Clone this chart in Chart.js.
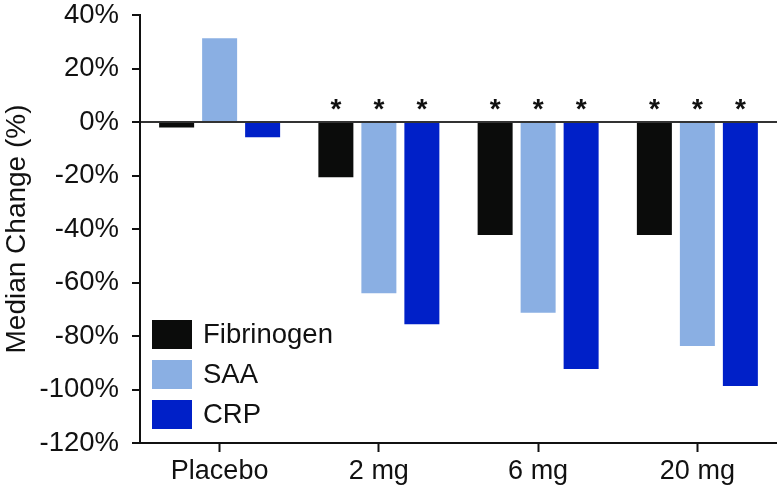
<!DOCTYPE html>
<html>
<head>
<meta charset="utf-8">
<script src="https://cdn.jsdelivr.net/npm/chart.js@4/dist/chart.umd.min.js"></script>
<style>
  html, body { margin: 0; padding: 0; background: #fff; }
  #wrap { position: relative; width: 777px; height: 492px; }
</style>
</head>
<body>
<div id="wrap"><canvas id="c" width="777" height="492"></canvas></div>
<script>
const categories = ['Placebo', '2 mg', '6 mg', '20 mg'];
const seriesNames = ['Fibrinogen', 'SAA', 'CRP'];
const fibrinogen = [-2.1, -20.7, -42.2, -42.2];
const saa = [31.3, -64.0, -71.3, -83.7];
const crp = [-5.7, -75.6, -92.3, -98.7];
const significant = [false, true, true, true];
const yTicks = [-120, -100, -80, -60, -40, -20, 0, 20, 40];
const colors = ['#0b0c0b', '#8aafe3', '#0020c8'];

const FONT = '"Liberation Sans", Arial, Helvetica, sans-serif';
const TEXT = '#111111';

const legendPlugin = {
  id: 'insideLegend',
  afterDraw(chart) {
    const ctx = chart.ctx;
    const area = chart.chartArea;
    ctx.save();
    ctx.fillStyle = TEXT;
    ctx.font = 'bold 28px ' + FONT;
    ctx.textAlign = 'center';
    ctx.textBaseline = 'alphabetic';
    const zeroY = chart.scales.y.getPixelForValue(0);
    chart.data.datasets.forEach((ds, di) => {
      const meta = chart.getDatasetMeta(di);
      meta.data.forEach((bar, i) => {
        if (significant[i]) ctx.fillText('*', bar.x, zeroY - 4);
      });
    });
    ctx.font = '27.5px ' + FONT;
    ctx.textAlign = 'left';
    ctx.textBaseline = 'middle';
    const x0 = area.left + 12;
    const y0 = area.bottom - 123;
    chart.data.datasets.forEach((ds, di) => {
      const y = y0 + di * 40;
      ctx.fillStyle = ds.backgroundColor;
      ctx.fillRect(x0, y, 40, 29);
      ctx.fillStyle = TEXT;
      ctx.fillText(ds.label, x0 + 51, y + 15);
    });
    ctx.restore();
  }
};

const datasets = [fibrinogen, saa, crp].map((vals, i) => ({
  label: seriesNames[i],
  data: vals,
  backgroundColor: colors[i],
  borderWidth: 0,
  categoryPercentage: 0.81,
  barPercentage: 0.814
}));

new Chart(document.getElementById('c'), {
  type: 'bar',
  data: { labels: categories, datasets },
  options: {
    responsive: false,
    animation: false,
    layout: { padding: { top: 15, right: 0, left: 0, bottom: 0 } },
    plugins: { legend: { display: false }, tooltip: { enabled: false } },
    scales: {
      x: {
        offset: true,
        grid: { offset: false, drawOnChartArea: false, tickLength: 9, tickColor: TEXT, tickWidth: 2 },
        border: { display: true, color: TEXT, width: 2 },
        ticks: { color: TEXT, font: { family: FONT, size: 27 }, padding: 3, maxRotation: 0 },
        afterFit(scale) { scale.height = 49; scale.paddingLeft = 0; scale.paddingRight = 0; }
      },
      y: {
        min: -120, max: 40,
        afterBuildTicks(scale) { scale.ticks = yTicks.map(v => ({ value: v })); },
        grid: {
          color: c => (c.tick && c.tick.value === 0 ? '#333333' : 'rgba(0,0,0,0)'),
          lineWidth: 2,
          tickColor: TEXT, tickWidth: 2, tickLength: 8
        },
        border: { display: true, color: TEXT, width: 2 },
        ticks: { color: TEXT, font: { family: FONT, size: 27.5 }, padding: 13, callback: v => v + '%' },
        title: { display: true, text: 'Median Change (%)', color: TEXT, font: { family: FONT, size: 28 }, padding: { top: 0, bottom: 0 } },
        afterFit(scale) { scale.width = 140; scale.paddingTop = 0; scale.paddingBottom = 0; }
      }
    }
  },
  plugins: [legendPlugin]
});
</script>
</body>
</html>
